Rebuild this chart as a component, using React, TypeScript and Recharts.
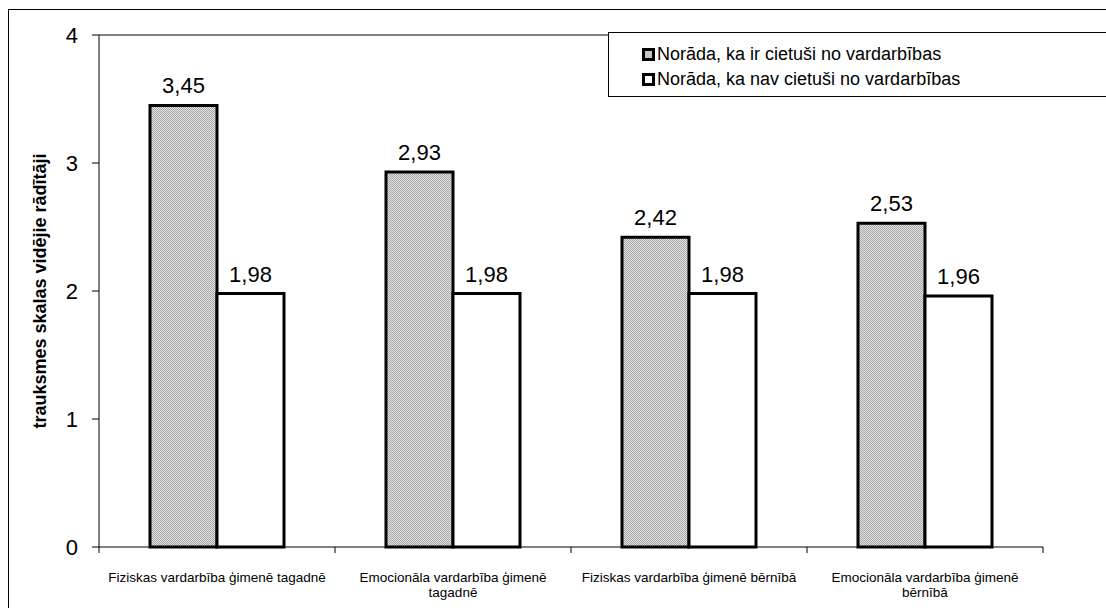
import React from 'react';
import { BarChart, Bar, XAxis, YAxis, LabelList, ReferenceLine } from 'recharts';

const categories = [
  'Fiziskas vardarbība ģimenē tagadnē',
  'Emocionāla vardarbība ģimenē tagadnē',
  'Fiziskas vardarbība ģimenē bērnībā',
  'Emocionāla vardarbība ģimenē bērnībā',
];
const cietusi = [3.45, 2.93, 2.42, 2.53];
const navCietusi = [1.98, 1.98, 1.98, 1.96];
const yTicks = [0, 1, 2, 3, 4];
const seriesNames = ['Norāda, ka ir cietuši no vardarbības', 'Norāda, ka nav cietuši no vardarbības'];

const data = categories.map((name, i) => ({ name, a: cietusi[i], b: navCietusi[i] }));

const FONT = "Arial, 'Liberation Sans', sans-serif";
const W = 1097;
const H = 598;
const X_HEIGHT = 30;
const MARGIN = { top: 25, right: 63, bottom: 31, left: 0 };
const Y_WIDTH = 90;
const BAND = (W - MARGIN.left - MARGIN.right - Y_WIDTH) / categories.length;

const fmt = (v: number) => v.toFixed(2).replace('.', ',');

function wrap(text: string, max: number) {
  const words = text.split(' ');
  const lines: string[] = [];
  let cur = '';
  for (const w of words) {
    const next = cur ? cur + ' ' + w : w;
    if (next.length > max && cur) {
      lines.push(cur);
      cur = w;
    } else cur = next;
  }
  if (cur) lines.push(cur);
  return lines;
}

const CategoryTick = (props: any) => {
  const { x, y, payload, index } = props;
  const lines = wrap(payload.value, 34);
  const left = x - BAND / 2;
  return (
    <g>
      <line x1={left} x2={left} y1={y} y2={y + 6} stroke="#000" />
      {index === categories.length - 1 && (
        <line x1={x + BAND / 2} x2={x + BAND / 2} y1={y} y2={y + 6} stroke="#000" />
      )}
      <text x={x} y={y} textAnchor="middle" fontSize={13.5} fontFamily={FONT} fill="#000">
        {lines.map((l, i) => (
          <tspan key={i} x={x} dy={i === 0 ? 35 : 15}>{l}</tspan>
        ))}
      </text>
    </g>
  );
};

const LegendBox = () => (
  <div
    style={{
      position: 'absolute',
      left: 599,
      top: 22,
      width: 500,
      height: 65,
      border: '1px solid #000',
      borderRight: 'none',
      background: '#fff',
      boxSizing: 'border-box',
      fontFamily: FONT,
      fontSize: 18,
      color: '#000',
      paddingLeft: 33,
      paddingTop: 9,
    }}
  >
    {seriesNames.map((n, i) => (
      <div key={n} style={{ display: 'flex', alignItems: 'center', height: 25 }}>
        <span
          style={{
            display: 'inline-block',
            width: 13,
            height: 13,
            boxSizing: 'border-box',
            border: '3px solid #000',
            background: i === 0 ? '#c4c4c4' : '#fff',
            marginRight: 2,
          }}
        />
        <span>{n}</span>
      </div>
    ))}
  </div>
);

export default function App() {
  return (
    <div
      style={{
        position: 'fixed',
        left: 8,
        top: 9,
        width: W,
        height: H,
        overflow: 'hidden',
        borderLeft: '1px solid #000',
        borderTop: '1px solid #000',
        background: '#fff',
      }}
    >
      <BarChart width={W} height={H} data={data} margin={MARGIN} barGap={0} barSize={67}>
        <defs>
          <pattern id="dots" width="2" height="2" patternUnits="userSpaceOnUse">
            <rect width="2" height="2" fill="#a8a8a8" />
            <rect width="1" height="1" fill="#e2e2e2" />
            <rect x="1" y="1" width="1" height="1" fill="#e2e2e2" />
          </pattern>
        </defs>
        <XAxis
          dataKey="name"
          interval={0}
          height={X_HEIGHT}
          tickSize={0}
          tickMargin={0}
          tickLine={false}
          axisLine={{ stroke: '#000' }}
          tick={<CategoryTick />}
        />
        <YAxis
          domain={[0, 4]}
          ticks={yTicks}
          width={Y_WIDTH}
          tickSize={7}
          tickMargin={14}
          axisLine={{ stroke: '#000' }}
          tickLine={{ stroke: '#000' }}
          tick={{ fontSize: 22, fill: '#000', fontFamily: FONT }}
          label={{
            value: 'trauksmes skalas vidējie rādītāji',
            angle: -90,
            position: 'center',
            dx: -14,
            style: { fontSize: 18, fontWeight: 'bold', fill: '#000', fontFamily: FONT },
          }}
        />
        <YAxis
          yAxisId="r"
          orientation="right"
          width={0}
          tick={false}
          tickLine={false}
          axisLine={{ stroke: '#808080', strokeWidth: 2 }}
        />
        <ReferenceLine y={4} stroke="#808080" strokeWidth={2} />
        <Bar dataKey="a" name={seriesNames[0]} fill="url(#dots)" stroke="#000" strokeWidth={3} isAnimationActive={false}>
          <LabelList dataKey="a" position="top" offset={12} formatter={(v: any) => fmt(Number(v))} style={{ fontSize: 22, fill: '#000', fontFamily: FONT }} />
        </Bar>
        <Bar dataKey="b" name={seriesNames[1]} fill="#fff" stroke="#000" strokeWidth={3} isAnimationActive={false}>
          <LabelList dataKey="b" position="top" offset={12} formatter={(v: any) => fmt(Number(v))} style={{ fontSize: 22, fill: '#000', fontFamily: FONT }} />
        </Bar>
      </BarChart>
      <LegendBox />
    </div>
  );
}
